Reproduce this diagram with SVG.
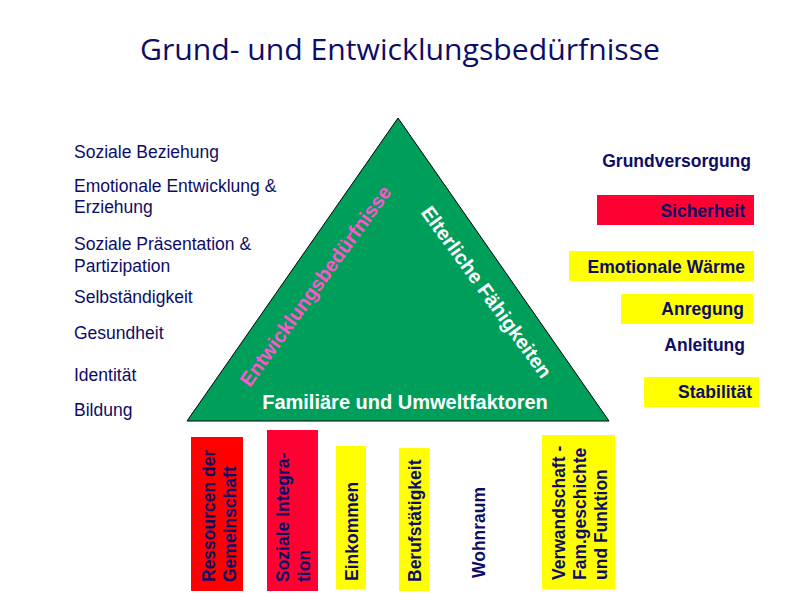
<svg xmlns="http://www.w3.org/2000/svg" width="800" height="600" viewBox="0 0 800 600">
<style>
.t{font-family:"Liberation Sans",Arial,sans-serif;font-size:17.5px;fill:#0d0d66}
.b{font-family:"Liberation Sans",Arial,sans-serif;font-size:17.5px;font-weight:bold;fill:#0d0d66}
.w{font-family:"Liberation Sans",Arial,sans-serif;font-weight:bold;fill:#ffffff}
.red{fill:#ff0033}
.yel{fill:#ffff00}
.e{text-anchor:end}
</style>
<rect width="800" height="600" fill="#ffffff"/>
<g id="title">
<text x="400" y="60" text-anchor="middle" textLength="520" lengthAdjust="spacingAndGlyphs" style="font-family:'Open Sans','Noto Sans',sans-serif;font-size:30px;fill:#0d0d66">Grund- und Entwicklungsbedürfnisse</text>
</g>
<g id="triangle">
<polygon points="398,118 187,421 609,421" fill="#009e5b" stroke="#000000" stroke-width="1"/>
<text transform="translate(321,290) rotate(-54)" text-anchor="middle" class="w" style="font-size:20px;fill:#ff55cc">Entwicklungsbedürfnisse</text>
<text transform="translate(481,296) rotate(54)" text-anchor="middle" class="w" style="font-size:20px">Elterliche Fähigkeiten</text>
<text x="405" y="409" text-anchor="middle" class="w" style="font-size:20px">Familiäre und Umweltfaktoren</text>
</g>
<g id="left-list">
<text class="t" x="74" y="158">Soziale Beziehung</text>
<text class="t" x="74" y="192">Emotionale Entwicklung &amp;</text>
<text class="t" x="74" y="213">Erziehung</text>
<text class="t" x="74" y="250">Soziale Präsentation &amp;</text>
<text class="t" x="74" y="272">Partizipation</text>
<text class="t" x="74" y="303">Selbständigkeit</text>
<text class="t" x="74" y="339">Gesundheit</text>
<text class="t" x="74" y="381">Identität</text>
<text class="t" x="74" y="416">Bildung</text>
</g>
<g id="right-list">
<g id="grundversorgung"><text class="b e" x="751" y="167">Grundversorgung</text></g>
<g id="sicherheit"><rect class="red" x="597" y="195" width="157" height="30"/><text class="b e" x="745" y="217">Sicherheit</text></g>
<g id="emotionale-waerme"><rect class="yel" x="569" y="251" width="185" height="30"/><text class="b e" x="745" y="273">Emotionale Wärme</text></g>
<g id="anregung"><rect class="yel" x="621" y="294" width="132" height="30"/><text class="b e" x="744" y="315">Anregung</text></g>
<g id="anleitung"><text class="b e" x="745" y="351">Anleitung</text></g>
<g id="stabilitaet"><rect class="yel" x="644" y="377" width="115" height="30"/><text class="b e" x="752" y="398">Stabilität</text></g>
</g>
<g id="bottom">
<g id="ressourcen"><rect x="191" y="437" width="52" height="154" fill="#ff0000"/>
<text class="b" transform="translate(215,582) rotate(-90)">Ressourcen der</text>
<text class="b" transform="translate(236,582) rotate(-90)">Gemeinschaft</text></g>
<g id="soziale-integration"><rect class="red" x="267" y="430" width="51" height="161"/>
<text class="b" transform="translate(289,582) rotate(-90)">Soziale Integra-</text>
<text class="b" transform="translate(310,582) rotate(-90)">tion</text></g>
<g id="einkommen"><rect class="yel" x="336" y="446" width="30" height="143"/>
<text class="b" transform="translate(358,581) rotate(-90)">Einkommen</text></g>
<g id="berufstaetigkeit"><rect class="yel" x="399" y="448" width="30" height="143"/>
<text class="b" transform="translate(421,582) rotate(-90)">Berufstätigkeit</text></g>
<g id="wohnraum"><text class="b" transform="translate(485,578) rotate(-90)">Wohnraum</text></g>
<g id="verwandschaft"><rect class="yel" x="542" y="435" width="73" height="154"/>
<text class="b" transform="translate(565,580) rotate(-90)">Verwandschaft -</text>
<text class="b" transform="translate(586,580) rotate(-90)">Fam.geschichte</text>
<text class="b" transform="translate(607,580) rotate(-90)">und Funktion</text></g>
</g>
<g id="connectors"></g>
</svg>
